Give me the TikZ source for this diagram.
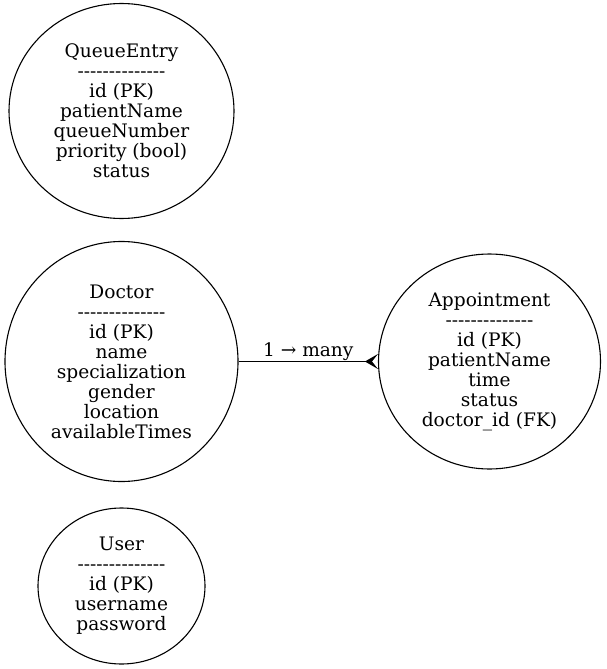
\documentclass[tikz,border=0pt]{standalone}
\usepackage{fontspec}
\setmainfont{DejaVu Serif}
\usetikzlibrary{shapes.geometric,arrows.meta}
\newcommand{\dashrule}{-{}-{}-{}-{}-{}-{}-{}-{}-{}-{}-{}-{}-{}-}
\tikzset{
  entity/.style={draw, ellipse, inner sep=0pt, line width=1.1pt, align=center,
    font=\fontsize{18.6}{20}\selectfont},
  rel/.style={line width=1.1pt, -{Stealth[reversed,length=13pt,width=15pt,inset=6pt]}},
  lbl/.style={font=\fontsize{18.6}{20}\selectfont, inner sep=0pt}
}
\begin{document}
\begin{tikzpicture}[x=1pt,y=-1pt]
\useasboundingbox (0,0) rectangle (606,669);
\node[entity, minimum width=225pt, minimum height=215pt] (queue) at (121.5,111)
  {QueueEntry\\\dashrule\\id (PK)\\patientName\\queueNumber\\priority (bool)\\status};
\node[entity, minimum width=233pt, minimum height=240pt] (doctor) at (121.5,361.5)
  {Doctor\\\dashrule\\id (PK)\\name\\specialization\\gender\\location\\availableTimes};
\node[entity, minimum width=222pt, minimum height=215pt] (appt) at (489.5,361.5)
  {Appointment\\\dashrule\\id (PK)\\patientName\\time\\status\\doctor\_id (FK)};
\node[entity, minimum width=167pt, minimum height=156pt] (user) at (121.5,586)
  {User\\\dashrule\\id (PK)\\username\\password};
\draw[rel] (doctor.east) -- (appt.west) node[lbl, midway, above=0pt] (card) {1 → many};
\end{tikzpicture}
\end{document}
